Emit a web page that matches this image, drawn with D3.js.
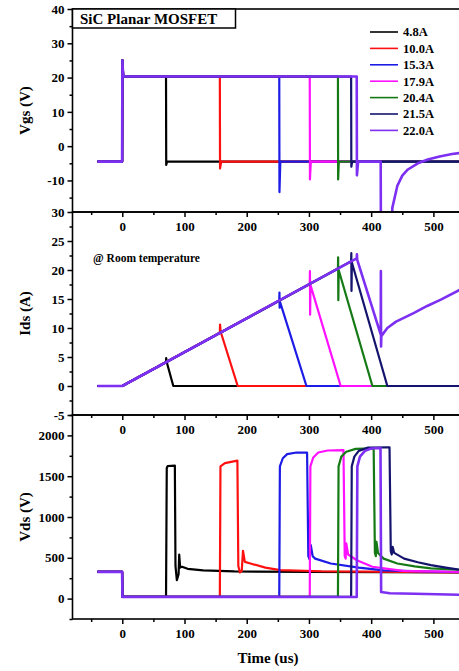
<!DOCTYPE html>
<html>
<head>
<meta charset="utf-8">
<script src="https://cdn.jsdelivr.net/npm/d3@7"></script>
<style>
  html, body { margin: 0; padding: 0; background: #fff; overflow: hidden; }
  text { font-family: "Liberation Serif", "Times New Roman", serif; font-weight: bold; }
</style>
</head>
<body>
<div id="chart"></div>
<script>
// series names + colours (legend order)
const currents = ["4.8A", "10.0A", "15.3A", "17.9A", "20.4A", "21.5A", "22.0A"];
const colors = ["#000000", "#ff1010", "#1c1ce6", "#ff10ff", "#157a15", "#14146e", "#7d2ff2"];

// tick labels
const timeTicks = [0, 100, 200, 300, 400, 500];
const timeMinor = [-50, 50, 150, 250, 350, 450, 550];
const vgsTicks = [-10, 0, 10, 20, 30, 40];
const vgsMinor = [-15, -5, 5, 15, 25, 35];
const idsTicks = [-5, 0, 5, 10, 15, 20, 25, 30];
const idsMinor = [-2.5, 2.5, 7.5, 12.5, 17.5, 22.5, 27.5];
const vdsTicks = [0, 500, 1000, 1500, 2000];
const vdsMinor = [-250, 250, 750, 1250, 1750, 2250];

// Vgs traces [time us, volts]
const vgsPoints = [
  [[-40, -4.5], [-0.3, -4.5], [0.2, 25], [1.5, 20.3], [70.3, 20.3], [70.6, -5.5], [72, -4.5], [550, -4.5]],
  [[-40, -4.5], [-0.3, -4.5], [0.2, 25], [1.5, 20.3], [156.8, 20.3], [157.1, -6.5], [159, -4.5], [550, -4.5]],
  [[-40, -4.5], [-0.3, -4.5], [0.2, 25], [1.5, 20.3], [252.3, 20.3], [252.6, -13.4], [254, -4.5], [550, -4.5]],
  [[-40, -4.5], [-0.3, -4.5], [0.2, 25], [1.5, 20.3], [301.3, 20.3], [301.6, -9.7], [303, -4.5], [550, -4.5]],
  [[-40, -4.5], [-0.3, -4.5], [0.2, 25], [1.5, 20.3], [346.6, 20.3], [346.9, -9.7], [348, -4.5], [550, -4.5]],
  [[-40, -4.5], [-0.3, -4.5], [0.2, 25], [1.5, 20.3], [367.8, 20.3], [368.1, -6], [369.5, -4.5], [550, -4.5]],
  [[-40, -4.5], [-0.3, -4.5], [0.2, 25], [1.5, 20.3], [376.8, 20.3], [377.1, -8.5], [379, -4.5], [415.3, -4.5],
   [415.8, -32], [432.5, -32], [434, -18], [442, -11.6], [450, -8.6], [459, -6.8], [475, -5], [491, -3.9],
   [510, -3], [530, -2.3], [550, -1.8]]
];

// Ids traces [time us, amps]
const idsPoints = [
  [[-40, 0], [0, 0], [70.3, 4.1], [70.6, 4.8], [71.5, 4.1], [82, 0], [550, 0]],
  [[-40, 0], [0, 0], [156.8, 9.2], [157.2, 10.6], [158, 9.4], [185.5, 0], [550, 0]],
  [[-40, 0], [0, 0], [252.3, 14.7], [252.6, 16.1], [252.9, 13.5], [253.5, 14.5], [296, 0], [550, 0]],
  [[-40, 0], [0, 0], [301.3, 17.6], [301.6, 19.8], [301.9, 12.3], [302.5, 17.4], [351, 0], [550, 0]],
  [[-40, 0], [0, 0], [346.6, 20.2], [346.9, 22.2], [347.2, 14.8], [347.8, 20], [402, 0], [550, 0]],
  [[-40, 0], [0, 0], [367.8, 21.5], [368.1, 22.9], [368.4, 16.4], [369, 21.3], [426, 0], [550, 0]],
  [[-40, 0], [0, 0], [376.8, 22.0], [377.1, 22.7], [377.5, 21.8], [415.4, 8.85], [415.6, 19.8], [415.9, 6.8],
   [416.3, 8.6], [426, 10], [440, 11.1], [469, 12.6], [490, 13.8], [512, 14.9], [543, 16.6], [550, 16.9]]
];

// Vds traces [time us, volts]
const vdsPoints = [
  [[-40, 328], [-0.3, 328], [0.3, 20], [70.3, 20], [71.5, 1600], [73, 1625], [84.5, 1630], [85.5, 400],
   [87.7, 225], [90.5, 300], [91.5, 540], [93, 380], [96, 390], [105, 365], [130, 345], [180, 333], [300, 328], [550, 322]],
  [[-40, 328], [-0.3, 328], [0.3, 20], [156.8, 20], [157.8, 1620], [165, 1660], [185, 1690], [186.5, 400],
   [189, 320], [192, 340], [194, 586], [197, 450], [206, 430], [230, 380], [254, 350], [320, 335], [550, 322]],
  [[-40, 328], [-0.3, 328], [0.3, 20], [252.3, 20], [253.3, 1620], [258, 1720], [265, 1770], [280, 1790],
   [297, 1790], [299, 520], [301, 480], [303, 656], [306, 520], [310, 490], [335, 430], [380, 380], [420, 345],
   [500, 330], [550, 322]],
  [[-40, 328], [-0.3, 328], [0.3, 20], [301.3, 20], [302.3, 1620], [307, 1730], [315, 1790], [330, 1815],
   [355.5, 1820], [357.5, 520], [359, 490], [360, 677], [363, 540], [377, 470], [402, 390], [451, 340], [550, 325]],
  [[-40, 328], [-0.3, 328], [0.3, 20], [346.6, 20], [347.6, 1620], [352, 1740], [360, 1800], [375, 1835],
   [404, 1840], [406, 560], [407.5, 520], [408.5, 697], [411, 560], [420, 490], [442, 430], [470, 395],
   [496, 370], [550, 350]],
  [[-40, 328], [-0.3, 328], [0.3, 20], [367.8, 20], [368.8, 1620], [373, 1740], [380, 1810], [395, 1850],
   [429.5, 1855], [431.5, 580], [433, 540], [434.5, 635], [437, 560], [453, 490], [475, 445], [496, 410],
   [520, 380], [543, 352], [550, 348]],
  [[-40, 328], [-0.3, 328], [0.3, 20], [376.8, 20], [377.8, 1620], [382, 1740], [390, 1810], [400, 1840],
   [415, 1845], [416, 80], [430, 65], [470, 60], [550, 45]]
];

const width = 459, height = 671;
const left = 72.5, right = 464.5;
const plain = d => String(d);  // hyphen minus, no thousands comma

const svg = d3.select("#chart").append("svg")
    .attr("width", width)
    .attr("height", height);

const x = d3.scaleLinear().domain([-80, 550]).range([left, right]);

const panels = [
  {id: "vgs", top: 9, bottom: 212, domain: [-19.2, 40], ticks: vgsTicks, minor: vgsMinor, data: vgsPoints, label: "Vgs (V)"},
  {id: "ids", top: 212, bottom: 415, domain: [-5, 30], ticks: idsTicks, minor: idsMinor, data: idsPoints, label: "Ids (A)"},
  {id: "vds", top: 415, bottom: 619, domain: [-250, 2250], ticks: vdsTicks, minor: vdsMinor, data: vdsPoints, label: "Vds (V)"}
];

panels.forEach(p => createPanel(p));

function createPanel(p) {
    const y = d3.scaleLinear().domain(p.domain).range([p.bottom, p.top]);

    svg.append("clipPath")
        .attr("id", "clip-" + p.id)
      .append("rect")
        .attr("x", left)
        .attr("y", p.top)
        .attr("width", right - left)
        .attr("height", p.bottom - p.top);

    const line = d3.line()
        .x(d => x(d[0]))
        .y(d => y(d[1]));

    svg.append("g")
        .attr("clip-path", `url(#clip-${p.id})`)
      .selectAll("path")
      .data(p.data)
      .enter().append("path")
        .attr("d", line)
        .attr("fill", "none")
        .attr("stroke", (d, i) => colors[i])
        .attr("stroke-width", (d, i) => i === 6 ? 2.6 : 2.2)
        .attr("stroke-linejoin", "round");

    // frame
    svg.append("rect")
        .attr("x", left)
        .attr("y", p.top)
        .attr("width", right - left)
        .attr("height", p.bottom - p.top)
        .attr("fill", "none")
        .attr("stroke", "black")
        .attr("stroke-width", 1.6);

    // y axis, major + minor
    svg.append("g")
        .attr("transform", `translate(${left},0)`)
        .call(d3.axisLeft(y).tickValues(p.ticks).tickSize(5).tickSizeOuter(0).tickPadding(3).tickFormat(plain));
    svg.append("g")
        .attr("transform", `translate(${left},0)`)
        .call(d3.axisLeft(y).tickValues(p.minor).tickSize(3).tickSizeOuter(0).tickFormat(""));

    // x axis, major + minor
    svg.append("g")
        .attr("transform", `translate(0,${p.bottom})`)
        .call(d3.axisBottom(x).tickValues(timeTicks).tickSize(5).tickSizeOuter(0).tickPadding(5).tickFormat(plain));
    svg.append("g")
        .attr("transform", `translate(0,${p.bottom})`)
        .call(d3.axisBottom(x).tickValues(timeMinor).tickSize(3).tickSizeOuter(0).tickFormat(""));

    svg.selectAll(".domain").remove();
    svg.selectAll(".tick line").attr("stroke-width", 1.5);
    svg.selectAll(".tick text")
        .attr("font-size", "13px")
        .attr("font-family", "Liberation Serif, Times New Roman, serif")
        .attr("font-weight", "bold");

    svg.append("text")
        .attr("transform", `translate(30,${(p.top + p.bottom) / 2}) rotate(-90)`)
        .attr("text-anchor", "middle")
        .attr("font-size", "15px")
        .text(p.label);
}

// title box
svg.append("rect")
    .attr("x", left)
    .attr("y", 9)
    .attr("width", 163)
    .attr("height", 19)
    .attr("fill", "white")
    .attr("stroke", "black")
    .attr("stroke-width", 1.5);
svg.append("text")
    .attr("x", 80)
    .attr("y", 24)
    .attr("font-size", "15px")
    .text("SiC Planar MOSFET");

svg.append("text")
    .attr("x", 93)
    .attr("y", 262)
    .attr("font-size", "11.5px")
    .text("@ Room temperature");

svg.append("text")
    .attr("x", 268)
    .attr("y", 663)
    .attr("text-anchor", "middle")
    .attr("font-size", "15px")
    .text("Time (us)");

// legend
const legend = svg.append("g")
    .attr("transform", "translate(370,32)");
const rowH = 16.4;

legend.selectAll("line")
    .data(currents)
    .enter().append("line")
    .attr("x1", 0)
    .attr("x2", 28)
    .attr("y1", (d, i) => i * rowH)
    .attr("y2", (d, i) => i * rowH)
    .attr("stroke", (d, i) => colors[i])
    .attr("stroke-width", 1.6);

legend.selectAll("text")
    .data(currents)
    .enter().append("text")
    .attr("x", 33)
    .attr("y", (d, i) => i * rowH)
    .attr("dy", ".35em")
    .attr("font-size", "12.5px")
    .text(d => d);
</script>
</body>
</html>
